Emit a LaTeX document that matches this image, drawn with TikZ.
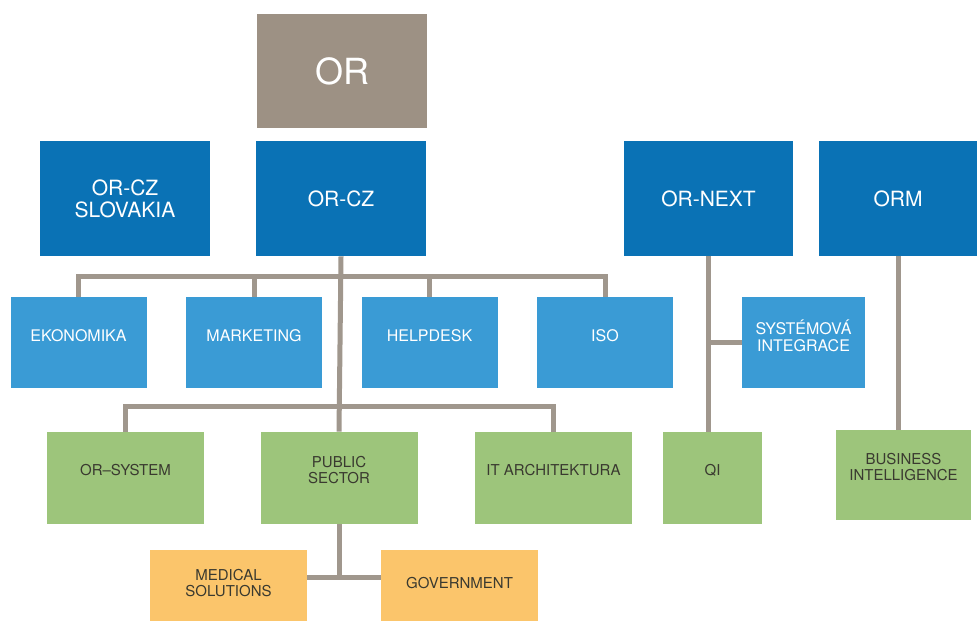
\documentclass[tikz,border=0pt]{standalone}
\usepackage{fontspec}
\setmainfont{TeX Gyre Heros}
\usepackage{tikz}
\usetikzlibrary{positioning,calc}
\definecolor{orgray}{HTML}{9D9184}
\definecolor{unitblue}{HTML}{0A72B5}
\definecolor{deptblue}{HTML}{3A9BD5}
\definecolor{teamgreen}{HTML}{9DC57B}
\definecolor{suborange}{HTML}{FBC56B}
\definecolor{linkgray}{HTML}{A0978D}
\definecolor{darktext}{HTML}{3A3A30}
\tikzset{
    box/.style={inner sep=0pt, align=center},
    topbox/.style={box, fill=orgray, text=white, minimum width=85pt, minimum height=57pt, font=\fontsize{18}{20}\selectfont},
    unit/.style={box, fill=unitblue, text=white, minimum width=85pt, minimum height=57.5pt, font=\fontsize{10.5}{11}\selectfont},
    dept/.style={box, fill=deptblue, text=white, minimum width=68pt, minimum height=45.5pt, text depth=7pt, font=\fontsize{8}{8.5}\selectfont},
    team/.style={box, fill=teamgreen, text=darktext, minimum width=78.5pt, minimum height=46pt, text depth=8pt, font=\fontsize{7.5}{8}\selectfont},
    sub/.style={box, fill=suborange, text=darktext, minimum width=78.5pt, minimum height=40pt, text depth=7pt, font=\fontsize{7.5}{8}\selectfont},
    link/.style={draw=linkgray, line width=2.5pt}
}
\begin{document}
\begin{tikzpicture}[x=0.5pt, y=-0.5pt]
    \useasboundingbox[fill=white] (0,0) rectangle (977,620);
    \clip (0,0) rectangle (977,620);
    % top level
    \node[topbox] (or) at (342,71) {OR};
    \node[unit] (slovakia) at (125,198.5) {OR-CZ\\SLOVAKIA};
    \node[unit] (orcz) at (341,198.5) {OR-CZ};
    \node[unit, minimum width=84.5pt] (ornext) at (708.5,198.5) {OR-NEXT};
    \node[unit, minimum width=79pt] (orm) at (898,198.5) {ORM};
    % departments
    \node[dept] (ekonomika) at (78.5,342.5) {EKONOMIKA};
    \node[dept] (marketing) at (254,342.5) {MARKETING};
    \node[dept] (helpdesk) at (429.5,342.5) {HELPDESK};
    \node[dept] (iso) at (605,342.5) {ISO};
    \node[dept, minimum width=61.5pt] (integrace) at (803.5,342.5) {SYSTÉMOVÁ\\INTEGRACE};
    % teams
    \node[team] (orsystem) at (125.5,478) {OR–SYSTEM};
    \node[team] (public) at (339,478) {PUBLIC\\SECTOR};
    \node[team] (itarch) at (553.5,478) {IT ARCHITEKTURA};
    \node[team, minimum width=49.5pt] (qi) at (712.5,478) {QI};
    \node[team, minimum width=67.5pt, minimum height=45pt] (bi) at (903.5,475) {BUSINESS\\INTELLIGENCE};
    \node[sub] (medical) at (228.5,590) {MEDICAL\\SOLUTIONS};
    \node[sub] (government) at (459.5,590) {GOVERNMENT};

    \draw[link] (orcz.south) -- (public.north);
    \draw[link] (ekonomika.north) -- ++(0,-20) -| (iso.north);
    \draw[link] (marketing.north) -- ++(0,-20);
    \draw[link] (helpdesk.north) -- ++(0,-20);
    \draw[link] (orsystem.north) -- ++(0,-25) -| (itarch.north);
    \draw[link] (public.south) -- ++(0,53) coordinate (split);
    \draw[link] (medical.east |- split) -- (government.west |- split);
    \draw[link] (ornext.south) -- (ornext.south |- qi.north);
    \draw[link] (ornext.south |- integrace.west) -- (integrace.west);
    \draw[link] (orm.south) -- (orm.south |- bi.north);
\end{tikzpicture}
\end{document}
